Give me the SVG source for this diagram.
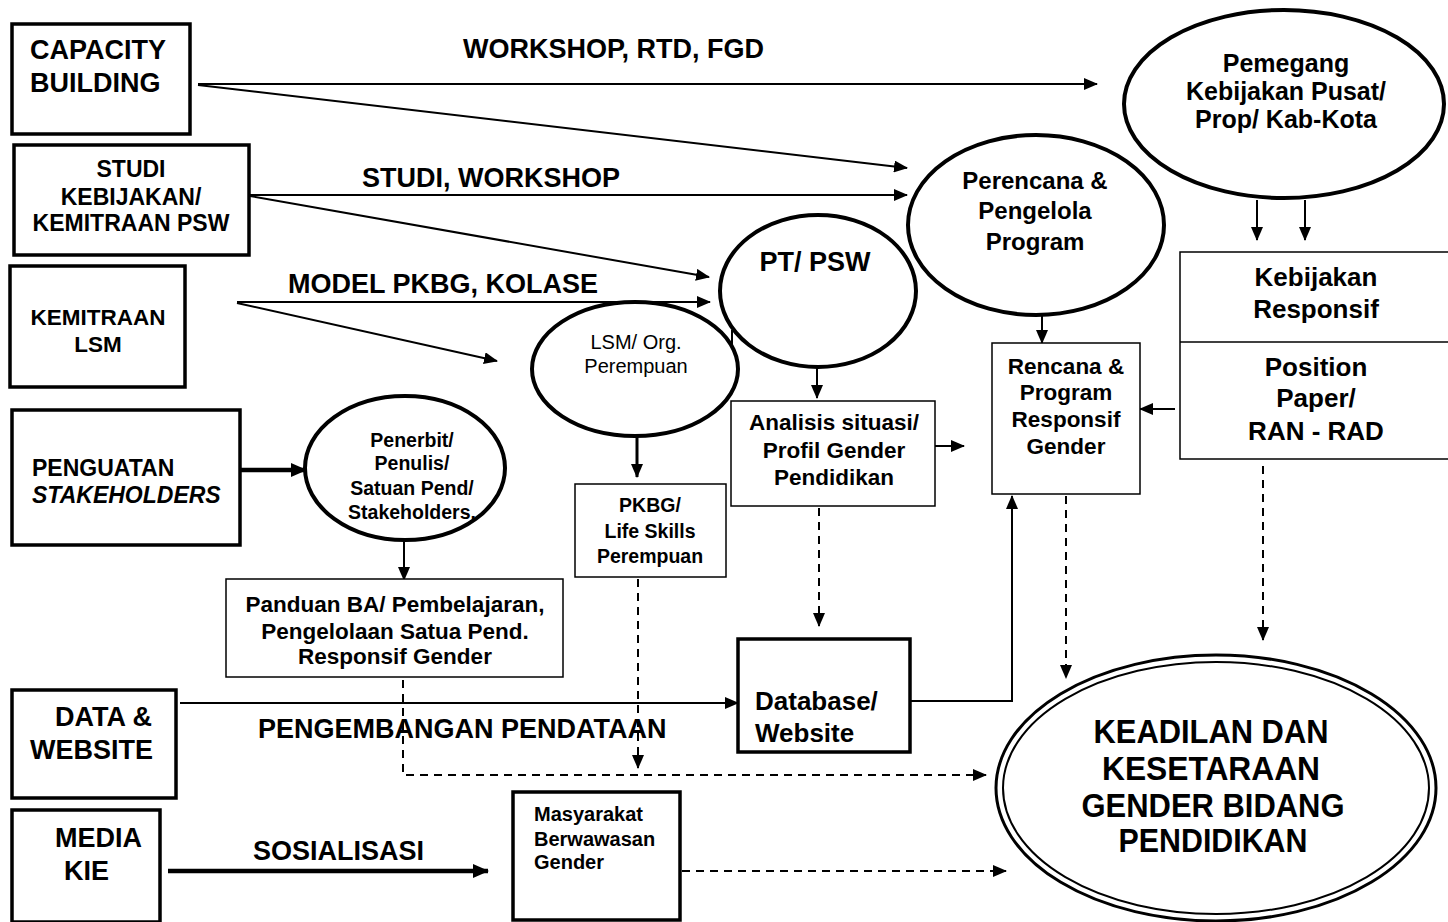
<svg xmlns="http://www.w3.org/2000/svg" width="1448" height="922" viewBox="0 0 1448 922">
<defs>
<marker id="ah" markerUnits="userSpaceOnUse" markerWidth="14" markerHeight="12" refX="13" refY="6" orient="auto">
<path d="M0,0 L14,6 L0,12 z" fill="#000"/>
</marker>
<marker id="ahb" markerUnits="userSpaceOnUse" markerWidth="16" markerHeight="14" refX="15" refY="7" orient="auto">
<path d="M0,0 L16,7 L0,14 z" fill="#000"/>
</marker>
</defs>
<style>
text{font-family:"Liberation Sans",Arial,sans-serif;font-weight:bold;fill:#000}
.c{text-anchor:middle}
.n{font-weight:normal}
.box{fill:#fff;stroke:#000;stroke-width:3.5}
.thin{fill:#fff;stroke:#000;stroke-width:1.5}
.ell{fill:#fff;stroke:#000;stroke-width:4}
.ln{fill:none;stroke:#000;stroke-width:2;marker-end:url(#ah)}
.thk{fill:none;stroke:#000;stroke-width:4.5;marker-end:url(#ahb)}
.dash{fill:none;stroke:#000;stroke-width:2;stroke-dasharray:8 6;marker-end:url(#ah)}
.f27{font-size:27px}.f26{font-size:26px}.f25{font-size:25px}.f23{font-size:23px}.f22{font-size:22px}.f19{font-size:19px}
</style>
<rect width="1448" height="922" fill="#fff"/>

<g id="connectors">
<line class="ln" x1="198" y1="84" x2="1097" y2="84"/>
<line class="ln" x1="198" y1="85" x2="907" y2="168"/>
<line class="ln" x1="250" y1="195" x2="907" y2="195"/>
<line class="ln" x1="250" y1="196" x2="709" y2="277"/>
<line class="ln" x1="237" y1="302" x2="710" y2="302"/>
<line class="ln" x1="237" y1="303" x2="497" y2="361"/>
<line class="thk" x1="240" y1="470" x2="306" y2="470"/>
<line class="ln" x1="404" y1="540" x2="404" y2="580"/>
<line class="ln" x1="637" y1="436" x2="637" y2="477" style="stroke-width:3"/>
<line class="ln" x1="732" y1="330" x2="732" y2="383"/>
<line class="ln" x1="817" y1="368" x2="817" y2="398"/>
<line class="ln" x1="935" y1="446" x2="964" y2="446"/>
<line class="ln" x1="1042" y1="314" x2="1042" y2="343"/>
<line class="ln" x1="1257" y1="200" x2="1257" y2="240"/>
<line class="ln" x1="1305" y1="200" x2="1305" y2="240"/>
<line class="ln" x1="1175" y1="409" x2="1140" y2="409"/>
<line class="ln" x1="180" y1="703" x2="738" y2="703"/>
<polyline class="ln" points="910,701 1012,701 1012,496"/>
<line class="dash" x1="819" y1="508" x2="819" y2="626"/>
<line class="dash" x1="1066" y1="482" x2="1066" y2="678"/>
<line class="dash" x1="1263" y1="466" x2="1263" y2="640"/>
<line class="dash" x1="638" y1="579" x2="638" y2="768"/>
<polyline class="dash" points="403,680 403,775 986,775"/>
<line class="dash" x1="682" y1="871" x2="1006" y2="871"/>
<line class="thk" x1="168" y1="871" x2="488" y2="871"/>
</g>

<g id="capacity-building">
<rect class="box" x="12" y="24" width="178" height="110"/>
<text class="f27" x="30" y="59">CAPACITY</text>
<text class="f27" x="30" y="92">BUILDING</text>
</g>
<g id="studi-kebijakan">
<rect class="box" x="14" y="145" width="235" height="110"/>
<text class="f23 c" x="131" y="177">STUDI</text>
<text class="f23 c" x="131" y="205">KEBIJAKAN/</text>
<text class="f23 c" x="131" y="231">KEMITRAAN PSW</text>
</g>
<g id="kemitraan-lsm">
<rect class="box" x="10" y="266" width="175" height="121"/>
<text class="c" x="98" y="325" font-size="22.5">KEMITRAAN</text>
<text class="c" x="98" y="352" font-size="22.5">LSM</text>
</g>
<g id="penguatan">
<rect class="box" x="12" y="410" width="228" height="135"/>
<text class="f23" x="32" y="476">PENGUATAN</text>
<text class="f23" x="32" y="503" font-style="italic">STAKEHOLDERS</text>
</g>
<g id="data-website">
<rect class="box" x="12" y="690" width="164" height="108"/>
<text class="f27" x="55" y="726">DATA &amp;</text>
<text class="f27" x="30" y="759">WEBSITE</text>
</g>
<g id="media-kie">
<rect class="box" x="12" y="810" width="148" height="112"/>
<text class="f27" x="55" y="847">MEDIA</text>
<text class="f27" x="64" y="880">KIE</text>
</g>

<g id="labels">
<text class="f27" x="463" y="58">WORKSHOP, RTD, FGD</text>
<text class="f27" x="362" y="187">STUDI, WORKSHOP</text>
<text class="f27" x="288" y="293">MODEL PKBG, KOLASE</text>
<text class="f27" x="258" y="738">PENGEMBANGAN PENDATAAN</text>
<text class="f27" x="253" y="860">SOSIALISASI</text>
</g>

<g id="pemegang">
<ellipse class="ell" cx="1284" cy="104" rx="160" ry="94"/>
<text class="f25 c" x="1286" y="72">Pemegang</text>
<text class="f25 c" x="1286" y="100">Kebijakan Pusat/</text>
<text class="f25 c" x="1286" y="128">Prop/ Kab-Kota</text>
</g>
<g id="perencana">
<ellipse class="ell" cx="1036" cy="225" rx="128" ry="90"/>
<text class="c" x="1035" y="189" font-size="24">Perencana &amp;</text>
<text class="c" x="1035" y="219" font-size="24">Pengelola</text>
<text class="c" x="1035" y="250" font-size="24">Program</text>
</g>
<g id="pt-psw">
<ellipse class="ell" cx="818" cy="291" rx="98" ry="76"/>
<text class="c" x="815" y="271" font-size="27">PT/ PSW</text>
</g>
<g id="lsm-org">
<ellipse class="ell" cx="635" cy="369" rx="103" ry="67"/>
<text class="c n" x="636" y="349" font-size="20">LSM/ Org.</text>
<text class="c n" x="636" y="373" font-size="20">Perempuan</text>
</g>
<g id="penerbit">
<ellipse class="ell" cx="405" cy="468" rx="100" ry="72"/>
<text class="c" x="412" y="447" font-size="19.5">Penerbit/</text>
<text class="c" x="412" y="470" font-size="19.5">Penulis/</text>
<text class="c" x="412" y="495" font-size="19.5">Satuan Pend/</text>
<text class="c" x="412" y="519" font-size="19.5">Stakeholders.</text>
</g>
<g id="panduan">
<rect class="thin" x="226" y="579" width="337" height="98"/>
<text class="c" x="395" y="612" font-size="22.5">Panduan BA/ Pembelajaran,</text>
<text class="c" x="395" y="639" font-size="22.5">Pengelolaan Satua Pend.</text>
<text class="c" x="395" y="664" font-size="22.5">Responsif Gender</text>
</g>
<g id="pkbg">
<rect class="thin" x="575" y="484" width="151" height="93"/>
<text class="c" x="650" y="512" font-size="19.5">PKBG/</text>
<text class="c" x="650" y="538" font-size="19.5">Life Skills</text>
<text class="c" x="650" y="563" font-size="19.5">Perempuan</text>
</g>
<g id="analisis">
<rect class="thin" x="731" y="401" width="204" height="105"/>
<text class="c" x="834" y="430" font-size="22.5">Analisis situasi/</text>
<text class="c" x="834" y="458" font-size="22.5">Profil Gender</text>
<text class="c" x="834" y="485" font-size="22.5">Pendidikan</text>
</g>
<g id="rencana">
<rect class="thin" x="992" y="343" width="148" height="151"/>
<text class="c" x="1066" y="374" font-size="22.5">Rencana &amp;</text>
<text class="c" x="1066" y="400" font-size="22.5">Program</text>
<text class="c" x="1066" y="427" font-size="22.5">Responsif</text>
<text class="c" x="1066" y="454" font-size="22.5">Gender</text>
</g>
<g id="kebijakan-responsif">
<rect class="thin" x="1180" y="252" width="290" height="207"/>
<line x1="1180" y1="342" x2="1448" y2="342" stroke="#000" stroke-width="1.5"/>
<text class="f26 c" x="1316" y="286">Kebijakan</text>
<text class="f26 c" x="1316" y="318">Responsif</text>
<text class="f26 c" x="1316" y="376">Position</text>
<text class="f26 c" x="1316" y="407">Paper/</text>
<text class="f26 c" x="1316" y="440">RAN - RAD</text>
</g>
<g id="database">
<rect class="box" x="738" y="639" width="172" height="113"/>
<text class="f26" x="755" y="710">Database/</text>
<text class="f26" x="755" y="742">Website</text>
</g>
<g id="masyarakat">
<rect class="box" x="513" y="792" width="167" height="128"/>
<text x="534" y="821" font-size="20">Masyarakat</text>
<text x="534" y="846" font-size="20">Berwawasan</text>
<text x="534" y="869" font-size="20">Gender</text>
</g>
<g id="keadilan">
<ellipse cx="1216" cy="788" rx="220" ry="133" fill="#fff" stroke="#000" stroke-width="3"/>
<ellipse cx="1216" cy="788" rx="213" ry="126" fill="none" stroke="#000" stroke-width="2"/>
<text class="c" x="1211" y="743" font-size="33" textLength="235" lengthAdjust="spacingAndGlyphs">KEADILAN DAN</text>
<text class="c" x="1211" y="780" font-size="33" textLength="218" lengthAdjust="spacingAndGlyphs">KESETARAAN</text>
<text class="c" x="1213" y="817" font-size="33" textLength="263" lengthAdjust="spacingAndGlyphs">GENDER BIDANG</text>
<text class="c" x="1213" y="852" font-size="33" textLength="189" lengthAdjust="spacingAndGlyphs">PENDIDIKAN</text>
</g>
</svg>
